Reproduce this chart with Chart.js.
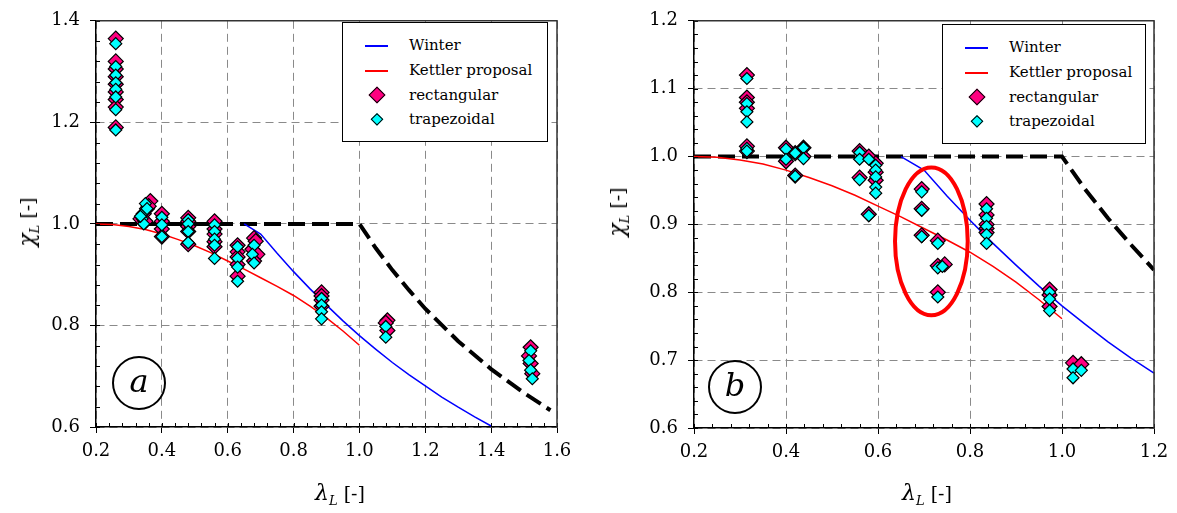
<!DOCTYPE html>
<html>
<head>
<meta charset="utf-8">
<script src="https://cdn.jsdelivr.net/npm/chart.js@4.4.0/dist/chart.umd.min.js"></script>
<style>
  body { margin: 0; background: #fff; width: 1177px; height: 513px; overflow: hidden; position: relative;
         font-family: "DejaVu Serif", serif; }
  .wrap { position: absolute; top: 0; }
  .ttl { position: absolute; white-space: nowrap; font-size: 19px; color: #000; transform: translate(-50%, -50%); }
  .ttl.rot { transform: translate(-50%, -50%) rotate(-90deg); }
  .ttl i { font-size: 22px; }
  .ttl sub { font-size: 13px; font-style: italic; vertical-align: -5px; }
  .legend { position: absolute; border: 1.5px solid #000; background: #fff; box-sizing: border-box; }
  .legend .ln { position: absolute; left: 22px; width: 23px; height: 1.6px; }
  .legend .tx { position: absolute; left: 66px; font-size: 15px; line-height: 20px; margin-top: -10px; white-space: nowrap; }
  .legend .dm { position: absolute; transform: translate(-50%, -50%) rotate(45deg); border: 1.2px solid #000; box-sizing: border-box; }
  .circ { position: absolute; width: 54px; height: 54px; border: 2px solid #000; border-radius: 50%;
          box-sizing: border-box; transform: translate(-50%, -50%); text-align: center;
          font-size: 32px; font-style: italic; line-height: 46px; }
</style>
</head>
<body>
<div class="wrap" style="left:0;width:580px;height:513px"><canvas id="chartA" width="580" height="513"></canvas></div>
<div class="wrap" style="left:600px;width:577px;height:513px"><canvas id="chartB" width="577" height="513"></canvas></div>

<div class="ttl rot" style="left:28px;top:222px"><i>χ</i><sub>L</sub> [-]</div>
<div class="ttl" style="left:340px;top:494px"><i>λ</i><sub>L</sub> [-]</div>
<div class="ttl rot" style="left:618px;top:212px"><i>χ</i><sub>L</sub> [-]</div>
<div class="ttl" style="left:927px;top:494px"><i>λ</i><sub>L</sub> [-]</div>

<div class="circ" style="left:139px;top:383px">a</div>
<div class="circ" style="left:735px;top:387px">b</div>

<div class="legend" style="left:342px;top:22px;width:206px;height:120px">
  <div class="ln" style="top:22px;background:#0000ff"></div><div class="tx" style="top:22px">Winter</div>
  <div class="ln" style="top:47px;background:#ff0000"></div><div class="tx" style="top:47px">Kettler proposal</div>
  <div class="dm" style="left:34px;top:72px;width:12px;height:12px;background:#ff0080"></div><div class="tx" style="top:72px">rectangular</div>
  <div class="dm" style="left:34px;top:96px;width:8.5px;height:8.5px;background:#00ffff"></div><div class="tx" style="top:96px">trapezoidal</div>
</div>
<div class="legend" style="left:942px;top:24px;width:204px;height:120px">
  <div class="ln" style="top:22px;background:#0000ff"></div><div class="tx" style="top:22px">Winter</div>
  <div class="ln" style="top:47px;background:#ff0000"></div><div class="tx" style="top:47px">Kettler proposal</div>
  <div class="dm" style="left:34px;top:72px;width:12px;height:12px;background:#ff0080"></div><div class="tx" style="top:72px">rectangular</div>
  <div class="dm" style="left:34px;top:96px;width:8.5px;height:8.5px;background:#00ffff"></div><div class="tx" style="top:96px">trapezoidal</div>
</div>

<script>
// curves (lambda_L, chi_L)
const winterLam = [0.65, 0.70, 0.75, 0.80, 0.85, 0.90, 0.95, 1.00, 1.05, 1.10, 1.15, 1.20, 1.25, 1.30, 1.35, 1.40];
const winterChi = [1.000, 0.980, 0.942, 0.906, 0.872, 0.840, 0.809, 0.780, 0.753, 0.727, 0.703, 0.681, 0.659, 0.639, 0.620, 0.602];

const kettlerLam = [0.20, 0.25, 0.30, 0.35, 0.40, 0.45, 0.50, 0.55, 0.60, 0.65, 0.70, 0.75, 0.80, 0.85, 0.90, 0.95, 1.00];
const kettlerChi = [1.000, 0.999, 0.995, 0.989, 0.980, 0.969, 0.957, 0.943, 0.927, 0.911, 0.894, 0.877, 0.859, 0.838, 0.815, 0.789, 0.761];

const limitLam = [0.20, 1.00, 1.05, 1.10, 1.15, 1.20, 1.30, 1.40, 1.50, 1.58];
const limitChi = [1.000, 1.000, 0.952, 0.909, 0.870, 0.833, 0.769, 0.714, 0.667, 0.633];

// test results, chart a
const rectA = [
  [0.26, 1.365], [0.26, 1.32], [0.26, 1.305], [0.26, 1.29], [0.26, 1.275], [0.26, 1.26], [0.26, 1.245], [0.26, 1.23], [0.26, 1.19],
  [0.365, 1.045], [0.355, 1.03], [0.345, 1.02], [0.335, 1.01], [0.35, 1.005], [0.36, 1.035],
  [0.40, 1.02], [0.40, 1.005], [0.40, 0.99], [0.40, 0.975],
  [0.48, 1.012], [0.48, 1.005], [0.48, 0.995], [0.48, 0.985], [0.48, 0.96],
  [0.56, 1.005], [0.56, 0.99], [0.56, 0.98], [0.56, 0.965], [0.56, 0.955],
  [0.63, 0.958], [0.63, 0.945], [0.63, 0.935], [0.63, 0.92], [0.63, 0.897],
  [0.68, 0.972], [0.685, 0.966], [0.675, 0.95], [0.69, 0.94], [0.68, 0.927],
  [0.885, 0.865], [0.885, 0.858], [0.885, 0.85], [0.885, 0.838],
  [1.085, 0.81], [1.08, 0.805], [1.085, 0.79],
  [1.52, 0.757], [1.515, 0.74], [1.52, 0.725], [1.525, 0.705]
];
const trapA = [
  [0.26, 1.355], [0.26, 1.31], [0.26, 1.293], [0.26, 1.278], [0.26, 1.265], [0.26, 1.25], [0.26, 1.225], [0.26, 1.185],
  [0.35, 1.04], [0.345, 1.022], [0.34, 1.01], [0.355, 1.03], [0.345, 1.0], [0.335, 1.015],
  [0.40, 1.013], [0.40, 0.998], [0.40, 0.975],
  [0.48, 1.008], [0.48, 1.0], [0.48, 0.985], [0.48, 0.963],
  [0.56, 0.998], [0.56, 0.985], [0.56, 0.97], [0.56, 0.958], [0.56, 0.932],
  [0.63, 0.955], [0.63, 0.932], [0.63, 0.915], [0.63, 0.887],
  [0.68, 0.958], [0.675, 0.94], [0.68, 0.923],
  [0.885, 0.853], [0.885, 0.84], [0.885, 0.827], [0.885, 0.813],
  [1.08, 0.798], [1.08, 0.777],
  [1.52, 0.75], [1.515, 0.731], [1.52, 0.712], [1.525, 0.695]
];

// test results, chart b
const rectB = [
  [0.315, 1.12], [0.315, 1.087], [0.315, 1.08], [0.315, 1.071], [0.315, 1.015], [0.315, 1.008],
  [0.40, 1.013], [0.40, 0.993], [0.42, 0.972], [0.438, 1.013], [0.438, 1.0], [0.42, 1.005],
  [0.56, 1.008], [0.56, 0.969], [0.58, 1.0], [0.595, 0.99], [0.595, 0.977], [0.595, 0.965], [0.58, 0.915],
  [0.695, 0.952], [0.695, 0.923], [0.695, 0.884], [0.73, 0.876], [0.73, 0.839], [0.745, 0.841], [0.73, 0.80],
  [0.836, 0.93], [0.836, 0.914], [0.836, 0.90], [0.836, 0.894], [0.836, 0.888],
  [0.973, 0.804], [0.973, 0.796], [0.973, 0.779],
  [1.024, 0.696], [1.042, 0.694]
];
const trapB = [
  [0.315, 1.115], [0.315, 1.078], [0.315, 1.066], [0.315, 1.051], [0.315, 1.012], [0.315, 1.008],
  [0.40, 1.011], [0.40, 0.996], [0.42, 0.971], [0.438, 1.013], [0.438, 0.997], [0.42, 1.005],
  [0.56, 1.006], [0.56, 0.996], [0.56, 0.966], [0.58, 0.996], [0.595, 0.987], [0.595, 0.98], [0.595, 0.97], [0.595, 0.955], [0.595, 0.946], [0.58, 0.913],
  [0.695, 0.948], [0.695, 0.921], [0.695, 0.882], [0.73, 0.872], [0.73, 0.836], [0.74, 0.838], [0.73, 0.793],
  [0.836, 0.923], [0.836, 0.909], [0.836, 0.897], [0.836, 0.885], [0.836, 0.872],
  [0.973, 0.8], [0.973, 0.79], [0.973, 0.773],
  [1.024, 0.687], [1.042, 0.685], [1.024, 0.674]
];

// highlighted group in chart b: centre lambda, centre chi, half width, half height
const ellipseB = [0.716, 0.875, 0.079, 0.109];

const FONT = "'DejaVu Serif', serif";

function curve(lam, chi, maxLam) {
  const pts = [];
  lam.forEach((l, i) => { if (l <= maxLam + 1e-9) pts.push({ x: l, y: chi[i] }); });
  return pts;
}
function pts(arr) { return arr.map(p => ({ x: p[0], y: p[1] })); }

// minor ticks, top/right frame, and optional ellipse
const framePlugin = {
  id: "frame",
  afterDraw(chart, args, opts) {
    const { ctx, chartArea: a, scales: { x, y } } = chart;
    ctx.save();
    ctx.strokeStyle = "#000";
    ctx.lineWidth = 1;
    ctx.beginPath();
    for (let v = x.min; v <= x.max + 1e-9; v += opts.minorX) {
      const px = Math.round(x.getPixelForValue(v)) + 0.5;
      ctx.moveTo(px, a.bottom); ctx.lineTo(px, a.bottom - 4);
    }
    for (let v = y.min; v <= y.max + 1e-9; v += opts.minorY) {
      const py = Math.round(y.getPixelForValue(v)) + 0.5;
      ctx.moveTo(a.left, py); ctx.lineTo(a.left + 4, py);
    }
    ctx.stroke();
    ctx.strokeStyle = "#333";
    ctx.lineWidth = 1.5;
    ctx.beginPath();
    ctx.moveTo(a.left, a.top); ctx.lineTo(a.right, a.top); ctx.lineTo(a.right, a.bottom);
    ctx.stroke();
    if (opts.ellipse) {
      const e = opts.ellipse;
      const cx = x.getPixelForValue(e[0]), cy = y.getPixelForValue(e[1]);
      const rx = x.getPixelForValue(e[0] + e[2]) - cx, ry = cy - y.getPixelForValue(e[1] + e[3]);
      ctx.strokeStyle = "#ff0000";
      ctx.lineWidth = 4;
      ctx.beginPath();
      ctx.ellipse(cx, cy, rx, ry, 0, 0, Math.PI * 2);
      ctx.stroke();
    }
    ctx.restore();
  }
};

function makeChart(id, cfg) {
  const tickFont = { family: FONT, size: 18 };
  return new Chart(document.getElementById(id), {
    type: "scatter",
    data: {
      datasets: [
        { label: "Winter", data: curve(winterLam, winterChi, cfg.xMax), showLine: true, borderColor: "#0000ff", borderWidth: 1.5, pointRadius: 0, order: 3 },
        { label: "Kettler proposal", data: curve(kettlerLam, kettlerChi, cfg.xMax), showLine: true, borderColor: "#ff0000", borderWidth: 1.5, pointRadius: 0, order: 3 },
        { label: "limit", data: curve(limitLam, limitChi, cfg.xMax), showLine: true, borderColor: "#000", borderWidth: 4, borderDash: [17, 7], pointRadius: 0, order: 3 },
        { label: "rectangular", data: pts(cfg.rect), pointStyle: "rectRot", pointRadius: 7.5, backgroundColor: "#ff0080", borderColor: "#000", borderWidth: 1.2, order: 2 },
        { label: "trapezoidal", data: pts(cfg.trap), pointStyle: "rectRot", pointRadius: 6, backgroundColor: "#00ffff", borderColor: "#000", borderWidth: 1.2, order: 1 }
      ]
    },
    options: {
      responsive: false,
      animation: false,
      devicePixelRatio: 1,
      layout: { padding: { top: cfg.top, right: cfg.right, left: 0, bottom: 0 } },
      plugins: { legend: { display: false }, tooltip: { enabled: false }, frame: { minorX: 0.04, minorY: cfg.minorY, ellipse: cfg.ellipse } },
      scales: {
        x: {
          type: "linear", min: 0.2, max: cfg.xMax,
          afterFit: s => { s.height = cfg.xH; },
          ticks: { stepSize: 0.2, color: "#000", font: tickFont, padding: 8, maxRotation: 0, autoSkip: false, callback: v => v.toFixed(1) },
          grid: { color: "#8a8a8a", lineWidth: 1, tickLength: 6, tickColor: "#000", tickWidth: 1, tickBorderDash: [] },
          border: { color: "#000", width: 1.5, dash: [8, 5] }
        },
        y: {
          type: "linear", min: 0.6, max: cfg.yMax,
          afterFit: s => { s.width = cfg.yW; },
          ticks: { stepSize: cfg.yStep, color: "#000", font: tickFont, padding: 10, callback: v => v.toFixed(1) },
          grid: { color: "#8a8a8a", lineWidth: 1, tickLength: 6, tickColor: "#000", tickWidth: 1, tickBorderDash: [] },
          border: { color: "#000", width: 1.5, dash: [8, 5] }
        }
      }
    },
    plugins: [framePlugin]
  });
}

makeChart("chartA", { xMax: 1.6, yMax: 1.4, yStep: 0.2, minorY: 0.04, rect: rectA, trap: trapA, top: 12, right: 23, xH: 86, yW: 96 });
makeChart("chartB", { xMax: 1.2, yMax: 1.2, yStep: 0.1, minorY: 0.02, rect: rectB, trap: trapB, top: 14, right: 23, xH: 85, yW: 94, ellipse: ellipseB });
</script>
</body>
</html>
